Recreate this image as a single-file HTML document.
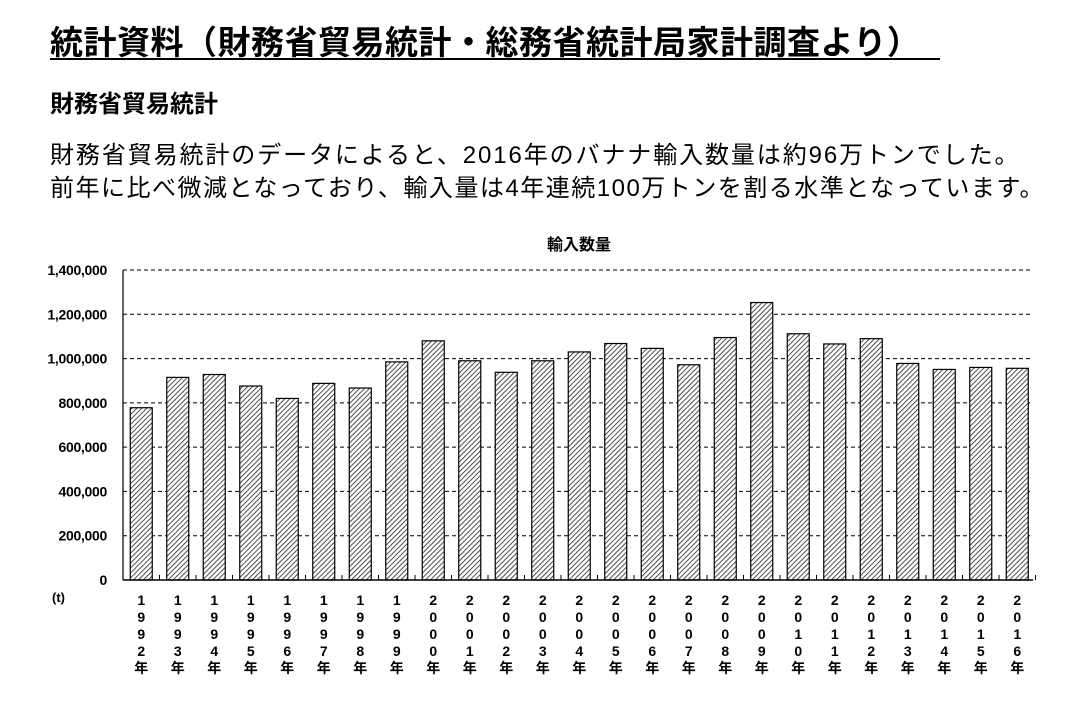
<!DOCTYPE html>
<html><head><meta charset="utf-8">
<style>
html,body{margin:0;padding:0;background:#fff;width:1066px;height:723px;overflow:hidden}
body{font-family:"Liberation Sans","Noto Sans CJK JP",sans-serif;color:#000;position:relative}
.t{position:absolute;left:50px;top:16px;font-size:33px;font-weight:bold;white-space:nowrap;letter-spacing:0.5px}
.u{position:absolute;left:50px;top:58px;width:890px;height:2px;background:#000}
.h{position:absolute;left:50px;top:84px;font-size:24px;font-weight:bold;white-space:nowrap}
.p{position:absolute;left:50px;font-size:24px;white-space:nowrap}
svg{position:absolute;left:0;top:0}
</style></head><body>
<div class="t">統計資料（財務省貿易統計・総務省統計局家計調査より）</div>
<div class="u"></div>
<div class="h">財務省貿易統計</div>
<div class="p" style="top:135px;letter-spacing:1.9px">財務省貿易統計のデータによると、2016年のバナナ輸入数量は約96万トンでした。</div>
<div class="p" style="top:168px;letter-spacing:1.5px">前年に比べ微減となっており、輸入量は4年連続100万トンを割る水準となっています。</div>
<svg id="c" width="1066" height="723" xmlns="http://www.w3.org/2000/svg">
<defs><pattern id="hp" width="3.5" height="3.5" patternUnits="userSpaceOnUse" patternTransform="rotate(45)"><rect width="4" height="4" fill="#fff"/><line x1="0" y1="0" x2="0" y2="4" stroke="#222" stroke-width="1.6"/></pattern></defs>
<text x="579" y="250" font-size="16" font-weight="bold" text-anchor="middle" font-family="Liberation Sans,Noto Sans CJK JP,sans-serif">輸入数量</text>
</svg>
<script>
var s=document.getElementById('c'),h='';
var vals=[778,915,928,876,820,888,867,985,1080,990,938,990,1030,1068,1046,972,1095,1253,1112,1066,1090,978,951,960,956];
function y(v){return 580-v*310/1400;}
var labs=['0','200,000','400,000','600,000','800,000','1,000,000','1,200,000','1,400,000'];
for(var i=0;i<=7;i++){var yy=y(i*200);
 if(i>0)h+='<line x1="123" x2="1033" y1="'+yy+'" y2="'+yy+'" stroke="#000" stroke-dasharray="4,3" stroke-width="1"/>';
 h+='<text x="107" y="'+(yy+5)+'" font-size="14" font-weight="bold" text-anchor="end" letter-spacing="-0.3" font-family="Liberation Sans,sans-serif">'+labs[i]+'</text>';}
for(var i=0;i<25;i++){var cx=123+36.5*(i+0.5),yy=y(vals[i]);
 h+='<rect x="'+(cx-11)+'" y="'+yy+'" width="22" height="'+(580-yy)+'" fill="url(#hp)" stroke="#000" stroke-width="1.2"/>';
 var tx=123+36.5*(i+1);h+='<line x1="'+tx+'" x2="'+tx+'" y1="580" y2="575" stroke="#000"/>';
 var yr=String(1992+i)+'年';
 for(var k=0;k<5;k++)h+='<text x="'+cx+'" y="'+(605+k*17)+'" font-size="14" font-weight="bold" text-anchor="middle" font-family="Liberation Sans,Noto Sans CJK JP,sans-serif">'+yr[k]+'</text>';}
h+='<line x1="123" x2="123" y1="270" y2="580" stroke="#000" stroke-width="1.2"/>';
h+='<line x1="123" x2="1033" y1="580" y2="580" stroke="#000" stroke-width="1.5"/>';
h+='<text x="52" y="602" font-size="13" font-weight="bold" font-family="Liberation Sans,sans-serif">(t)</text>';
s.insertAdjacentHTML('beforeend',h);
</script>
</body></html>
